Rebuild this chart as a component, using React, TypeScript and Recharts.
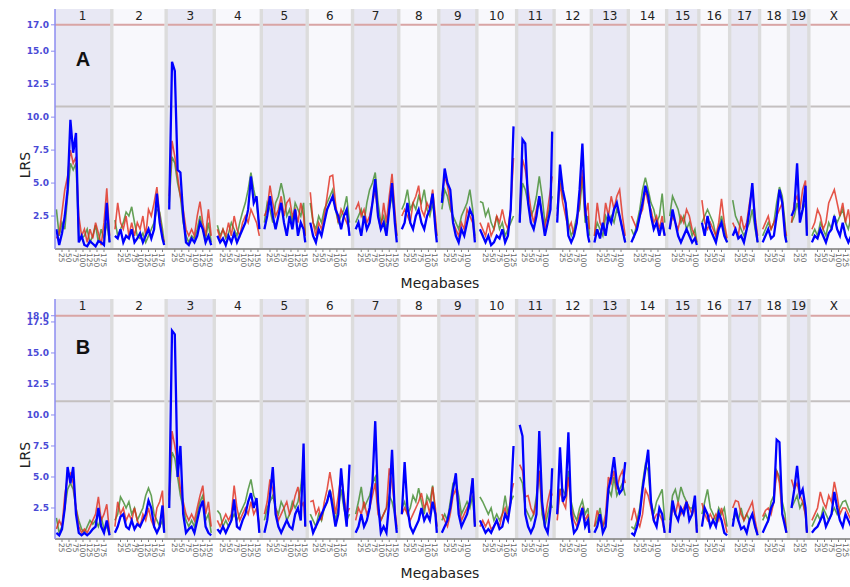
import React from 'react';
import { ComposedChart, Line, XAxis, YAxis, ReferenceArea, ReferenceLine } from 'recharts';

const CHROMS = ['1','2','3','4','5','6','7','8','9','10','11','12','13','14','15','16','17','18','19','X'];
const CHROM_MB = [197,182,160,156,152,150,153,131,124,130,122,121,120,125,103,98,95,91,61,166];
const GAP_MB = 12;
const X_TICK_MB = [25,50,75,100,125,150,175];

const A_Y_TICKS = [2.5,5,7.5,10,12.5,15,17];
const B_Y_TICKS = [2.5,5,7.5,10,12.5,15,17.5,18];
const A_Y_MAX = 18.2;
const B_Y_MAX = 19.35;
const A_SIGNIFICANT = 17.0;
const A_SUGGESTIVE = 10.8;
const B_SIGNIFICANT = 18.0;
const B_SUGGESTIVE = 11.1;

// LRS values per chromosome, sampled every 10 Mb (5, 15, 25 ... Mb)
const A_BLUE = [
  [1.5,0.3,1.2,2.5,4.5,9.8,7.3,8.8,0.5,1.0,0.3,0.2,0.6,0.4,0.2,0.6,0.5,0.3,3.5,0.5],
  [1.0,0.8,1.5,0.5,1.0,0.8,1.5,0.5,0.8,1.2,0.5,1.0,1.5,0.8,1.5,4.2,2.0,0.8,0.3],
  [3.0,14.2,13.5,6.0,5.8,2.5,0.5,0.3,0.8,0.5,1.0,2.0,1.5,0.5,1.0,0.3],
  [1.0,0.5,0.8,0.3,1.0,0.5,1.2,0.5,1.0,1.5,2.0,3.0,5.5,3.5,4.0,1.5],
  [1.5,2.5,4.0,2.5,1.5,2.5,3.5,2.0,1.0,2.5,1.5,3.0,1.0,2.0,1.5,0.5],
  [2.0,1.0,0.5,1.5,1.0,2.0,3.0,3.5,4.0,3.0,2.5,1.5,2.5,3.0,1.0],
  [1.5,2.0,1.0,2.5,1.5,2.0,3.5,5.3,2.5,1.5,2.0,1.0,3.0,5.0,2.0,0.5],
  [1.5,2.0,3.5,2.0,1.5,2.5,3.0,2.0,1.5,2.5,3.0,4.2,1.5,0.5],
  [3.5,6.1,5.0,4.5,2.0,1.0,0.5,1.5,1.0,2.0,3.0,2.5,0.5],
  [1.5,1.0,0.5,1.0,0.3,0.5,1.0,0.8,1.5,0.5,1.0,3.0,9.3],
  [2.0,8.3,8.0,3.5,2.0,1.5,2.5,4.0,2.5,1.0,2.0,3.0,8.9],
  [2.0,6.4,4.5,3.5,1.0,0.5,1.0,2.0,4.5,8.0,3.0,1.0,0.5],
  [0.5,1.5,0.8,2.0,1.0,2.5,2.0,3.0,3.5,2.5,1.5,0.5],
  [0.5,1.0,1.5,2.5,3.5,4.8,4.0,2.5,1.5,2.0,1.0,2.0,1.0],
  [1.5,3.0,2.0,1.0,0.5,1.0,1.5,1.0,0.5,0.8,0.3],
  [2.0,1.0,2.5,1.5,1.0,0.5,1.5,2.0,1.0,0.5],
  [1.0,1.5,0.8,1.0,0.5,1.5,3.0,5.0,2.0,0.5],
  [0.5,1.0,1.5,0.8,1.0,2.5,4.5,3.5,1.0,0.5],
  [2.5,3.0,6.5,2.0,3.0,4.8,1.0],
  [0.5,1.0,0.8,1.5,1.0,0.5,1.2,1.5,2.5,1.5,1.0,2.0,1.0,0.5,1.0,0.8,0.5],
];
const A_RED = [
  [0.8,1.2,2.8,4.5,5.5,7.5,6.5,7.0,2.5,1.0,1.5,0.5,1.5,0.8,2.0,1.2,0.3,2.0,4.6,1.0],
  [1.5,3.5,2.0,1.5,2.5,1.0,2.0,1.0,2.0,1.5,2.5,1.0,3.0,2.5,3.5,4.7,2.5,1.0,0.5],
  [4.0,8.2,7.0,5.5,4.0,3.0,1.5,1.0,1.5,1.0,2.5,3.6,2.0,1.0,3.0,1.0],
  [1.5,0.8,1.5,1.0,2.0,1.0,2.5,1.5,1.0,2.0,2.5,2.0,3.0,2.5,2.0,1.0],
  [2.5,3.0,4.8,3.5,2.5,3.0,4.0,2.5,3.5,3.8,2.5,3.0,2.0,3.5,2.5,1.0],
  [4.3,2.0,1.0,2.0,1.5,2.5,4.0,5.5,5.6,3.5,2.0,3.0,2.5,2.0,1.5],
  [3.0,3.5,2.5,3.0,2.0,2.5,3.5,4.5,2.5,1.5,3.5,2.0,4.0,5.7,3.0,1.0],
  [2.5,3.0,2.5,2.0,3.5,4.0,4.8,3.0,2.5,3.5,3.0,4.5,2.5,1.0],
  [4.0,5.5,4.8,3.5,2.0,1.5,1.0,2.0,1.5,3.0,2.5,2.0,0.8],
  [2.0,1.5,1.0,2.0,1.0,1.5,2.5,2.0,3.0,2.0,1.5,3.0,6.9],
  [2.5,6.8,6.0,4.5,3.0,2.0,3.0,4.0,2.5,1.5,3.0,4.5,5.5],
  [2.5,5.0,3.5,2.5,1.5,2.0,1.0,2.0,3.5,6.0,2.5,3.5,1.5],
  [1.0,3.5,2.0,1.5,3.5,2.5,4.0,3.0,4.0,4.5,2.5,1.0],
  [2.5,2.0,1.5,2.5,3.0,4.5,3.5,3.0,2.0,2.5,1.5,2.5,1.0],
  [1.5,2.5,2.0,1.5,2.5,2.0,3.0,2.5,1.5,1.0,0.5],
  [3.7,2.0,1.5,2.0,1.5,1.0,2.0,3.8,2.0,0.8],
  [2.0,1.5,1.0,2.5,1.5,2.0,3.5,4.5,2.5,1.0],
  [1.5,2.0,2.5,1.5,2.0,2.5,3.0,3.5,1.5,1.0],
  [2.0,3.5,4.0,3.0,4.5,5.2,1.5],
  [1.5,2.0,3.0,2.5,1.5,2.0,3.5,4.0,4.5,3.5,2.5,3.5,2.0,3.0,1.5,2.0,1.0],
];
const A_GREEN = [
  [3.0,1.0,2.0,1.5,4.0,6.5,6.0,6.5,1.0,0.8,1.0,1.5,0.5,1.0,1.8,0.5,1.5,0.8,2.0,0.5],
  [2.2,1.0,1.5,2.0,2.8,2.5,3.2,2.0,1.0,0.8,1.2,0.5,1.0,1.5,2.0,3.0,2.8,1.5,0.5],
  [3.5,7.0,6.5,5.0,4.0,2.0,1.0,0.5,1.0,0.8,1.5,2.5,1.5,0.8,2.0,0.5],
  [1.8,1.0,1.5,0.8,1.2,2.0,1.5,1.0,2.0,2.8,3.5,4.5,5.8,4.5,3.5,1.5],
  [2.0,3.5,3.0,2.0,3.5,4.0,5.0,4.0,2.5,3.0,2.0,3.5,3.0,2.5,3.5,1.0],
  [3.5,2.0,1.5,2.5,2.0,3.0,3.5,4.0,4.5,3.0,2.0,2.5,3.0,4.0,2.0],
  [2.0,2.5,3.0,2.0,3.5,4.5,5.0,5.8,3.5,2.0,2.5,1.5,3.0,4.0,2.5,1.0],
  [3.0,3.5,4.5,3.0,3.5,3.0,4.0,3.5,4.5,3.0,2.5,3.5,2.0,1.0],
  [3.0,4.5,4.0,3.0,2.5,2.0,1.5,2.5,3.0,3.5,4.5,3.0,1.0],
  [3.6,3.5,2.5,3.0,2.0,1.5,2.5,1.5,2.0,1.0,1.5,2.0,2.5],
  [2.0,5.0,4.5,3.5,2.5,3.0,4.0,5.5,4.0,2.0,2.5,3.5,4.0],
  [3.0,5.5,4.0,3.5,2.0,1.0,1.5,2.5,3.0,5.5,2.0,2.5,1.0],
  [1.0,2.0,1.5,1.0,2.5,2.0,2.5,2.0,3.0,2.5,1.5,0.5],
  [1.5,1.0,2.0,3.0,4.5,5.4,4.5,3.5,3.0,2.0,2.5,4.2,2.0],
  [2.5,4.0,3.5,3.0,2.0,2.5,1.5,2.0,1.0,1.5,0.5],
  [2.0,2.5,3.0,2.5,2.0,1.0,1.5,2.5,1.5,0.5],
  [3.7,2.5,2.0,1.5,1.0,1.5,2.0,3.0,1.5,0.5],
  [1.0,1.5,2.0,1.5,2.0,3.5,4.7,4.0,2.0,0.5],
  [2.0,2.5,3.5,2.5,3.0,3.5,1.0],
  [1.0,1.5,1.0,2.0,1.5,1.0,2.0,1.5,2.5,2.0,2.5,3.0,2.0,1.5,2.5,1.0,0.5],
];

const B_BLUE = [
  [0.5,0.3,0.8,2.5,5.8,4.5,5.8,2.0,0.5,0.3,0.5,0.3,0.5,0.8,1.0,2.5,1.0,0.5,1.5,0.3],
  [0.5,1.0,1.8,2.0,1.0,0.8,1.5,0.8,1.2,1.0,1.5,2.0,3.1,2.5,1.0,0.5,1.0,2.7,0.5],
  [2.5,16.8,16.5,5.0,7.5,2.0,0.5,0.8,1.0,0.5,1.5,2.5,3.1,1.0,0.5,0.3],
  [0.8,0.5,1.0,0.5,1.0,1.5,3.2,1.0,0.8,1.5,2.0,3.0,3.7,2.5,3.3,0.5],
  [0.5,1.5,3.5,5.8,2.0,1.0,0.5,1.0,1.5,1.0,0.8,2.0,2.5,1.5,7.7,1.0],
  [1.5,0.5,1.0,1.5,2.0,2.5,3.0,3.9,2.5,1.0,2.0,5.7,3.0,1.0,6.0],
  [0.5,1.0,2.0,1.0,1.5,2.5,4.5,9.5,3.0,0.5,1.0,0.5,3.0,7.2,2.0,0.5],
  [2.0,6.2,2.5,1.0,0.5,1.0,1.5,2.5,1.5,2.0,1.5,3.0,2.0,0.5],
  [0.5,1.0,1.5,2.5,4.0,5.3,2.0,1.0,1.5,2.0,3.0,4.9,1.0],
  [1.5,1.0,0.5,0.8,0.5,1.0,1.5,0.8,1.0,2.0,1.5,3.0,7.5],
  [9.2,8.3,2.0,1.0,0.5,1.0,2.0,8.7,3.0,1.0,0.5,2.5,5.7],
  [2.0,7.4,3.0,3.5,8.6,2.0,0.5,0.8,1.5,2.5,1.0,1.5,0.5],
  [0.5,1.0,2.0,0.5,1.0,4.0,5.0,6.6,4.5,3.7,4.0,6.2],
  [0.5,0.3,1.0,2.0,4.0,5.6,7.2,3.0,1.5,1.0,2.5,2.0,0.5],
  [0.5,3.1,2.0,1.5,2.5,2.0,3.0,1.5,2.0,3.5,0.5],
  [1.0,2.5,2.0,1.0,1.5,1.0,2.1,1.5,0.5,0.3],
  [1.0,2.5,1.5,0.8,1.0,0.5,1.5,2.0,1.0,0.3],
  [0.5,1.0,1.5,2.5,3.0,8.0,7.8,2.0,1.0,0.5],
  [2.5,4.0,5.9,3.5,4.0,2.5,0.5],
  [0.5,0.8,1.0,1.5,2.0,1.0,1.5,2.0,3.8,2.5,1.5,1.0,2.0,1.5,1.0,0.5,0.5],
];
const B_RED = [
  [0.8,1.5,1.0,3.5,5.0,5.3,4.5,2.5,1.0,0.5,0.8,0.5,1.0,1.5,2.0,3.4,1.5,2.0,2.8,0.5],
  [1.0,3.0,2.0,2.5,1.5,2.0,1.5,2.5,1.5,1.0,2.0,1.5,2.5,1.5,1.0,2.5,3.0,3.9,1.0],
  [3.5,8.7,7.5,6.0,4.0,3.0,2.0,1.5,2.0,1.5,2.5,3.5,4.3,2.0,3.0,1.0],
  [1.5,1.0,1.5,2.0,1.5,2.0,4.3,2.5,1.5,2.0,2.5,2.0,3.0,2.0,2.5,1.0],
  [2.0,3.0,4.8,4.0,2.5,1.5,2.0,2.5,3.0,2.0,2.5,3.5,4.2,2.5,3.0,1.0],
  [3.0,3.1,2.0,2.5,1.5,3.0,4.0,5.4,4.0,2.0,3.5,5.2,3.5,2.0,2.5],
  [1.5,2.5,2.0,3.0,2.0,2.5,3.5,4.5,2.0,1.5,2.0,2.5,5.7,4.5,2.5,1.0],
  [2.0,2.5,2.0,1.5,2.0,2.5,3.0,3.7,2.5,3.0,2.0,4.2,2.5,1.0],
  [2.0,1.5,1.0,2.0,3.5,4.0,2.5,1.5,2.0,2.5,3.0,4.9,1.0],
  [1.0,1.5,1.0,1.5,0.8,1.0,1.5,1.0,2.0,2.5,1.5,3.5,4.5],
  [6.0,5.5,3.4,3.5,2.5,2.0,3.0,5.5,2.5,1.5,3.0,4.0,3.5],
  [1.5,4.0,3.0,2.5,5.0,2.5,1.5,1.0,2.0,2.5,1.5,2.0,0.5],
  [1.0,2.3,1.5,1.0,2.0,5.0,4.5,5.5,4.0,5.0,5.5,4.5],
  [1.5,2.5,1.5,1.0,2.0,4.0,3.5,2.5,1.5,2.0,2.0,1.5,0.5],
  [1.0,2.5,2.0,3.0,2.0,2.5,3.0,2.5,2.0,2.5,0.5],
  [2.9,2.0,1.5,2.0,1.5,2.0,1.5,2.5,1.5,0.5],
  [2.5,3.1,3.0,2.0,1.5,2.0,2.5,3.0,1.5,0.5],
  [1.8,2.3,2.5,2.0,3.0,5.5,4.5,2.0,1.5,0.5],
  [4.8,4.0,4.5,3.5,3.0,1.9,0.5],
  [1.5,2.0,2.5,3.8,3.0,2.5,3.5,3.0,4.6,3.5,2.0,2.5,2.5,2.0,1.5,1.0,0.5],
];
const B_GREEN = [
  [1.7,0.5,1.0,2.5,4.0,4.5,4.0,2.5,1.5,0.8,0.5,1.0,1.5,1.2,1.5,1.0,1.8,0.8,1.0,0.3],
  [1.5,2.0,3.4,3.0,2.5,3.0,2.0,2.5,1.5,2.0,2.5,3.5,4.1,3.5,2.0,1.5,1.0,1.5,0.5],
  [3.0,7.0,6.5,5.0,3.5,2.5,1.5,1.0,1.5,1.0,2.0,3.0,3.5,1.5,2.0,0.5],
  [2.3,2.0,1.0,1.5,1.0,1.5,2.0,1.5,2.0,2.5,3.0,4.0,4.8,3.5,3.0,1.0],
  [1.5,2.5,3.0,3.5,2.5,2.0,3.0,2.5,1.5,2.0,3.0,2.5,3.0,4.2,6.2,1.0],
  [2.0,1.5,1.0,2.0,1.5,2.5,3.0,4.0,3.0,1.5,2.5,4.0,2.5,1.5,2.0],
  [2.0,3.0,4.2,2.5,3.0,3.5,4.5,5.0,2.5,1.5,2.0,2.5,3.5,3.0,2.0,0.8],
  [2.5,3.0,2.0,2.5,3.5,3.0,4.1,3.0,2.0,3.5,3.0,4.3,2.0,1.0],
  [1.5,2.0,1.5,3.0,4.5,4.5,3.5,2.0,2.5,3.0,2.5,3.5,1.0],
  [3.4,3.0,2.5,2.0,2.5,1.5,2.0,1.5,2.0,3.5,2.0,3.0,3.5],
  [5.0,4.5,2.5,2.0,1.5,2.0,3.5,5.5,2.0,1.0,2.0,3.0,2.5],
  [2.0,4.0,4.0,3.5,5.5,3.0,2.0,1.5,2.5,3.1,2.0,2.5,1.0],
  [1.0,1.5,2.5,1.0,1.5,4.0,3.5,5.0,3.5,4.0,4.5,3.5],
  [1.0,0.8,1.5,2.5,4.5,6.0,5.5,3.0,2.0,3.0,3.5,4.0,1.5],
  [1.5,3.5,4.0,3.0,4.2,3.5,3.0,2.5,2.5,3.0,1.0],
  [2.0,3.0,4.0,2.5,2.0,1.5,2.5,2.0,2.5,1.0],
  [1.5,2.0,1.5,2.5,1.5,2.0,1.5,2.0,1.0,0.3],
  [1.5,2.0,1.5,3.0,3.5,5.5,5.0,3.0,2.0,0.5],
  [2.5,3.0,3.5,2.5,3.0,2.0,0.5],
  [1.0,1.5,2.0,1.5,2.5,2.0,1.5,2.0,2.5,2.0,2.5,3.0,3.1,2.5,2.0,1.0,0.5],
];

const STARTS: number[] = [];
{
  let acc = 0;
  CHROM_MB.forEach((len) => { STARTS.push(acc); acc += len + GAP_MB; });
}
const TOTAL = STARTS[STARTS.length - 1] + CHROM_MB[CHROM_MB.length - 1];

const X_TICKS: number[] = [];
const X_TICK_LABEL = new Map<number, string>();
CHROM_MB.forEach((len, i) => {
  X_TICK_MB.forEach((mb) => {
    if (mb < len) {
      const pos = STARTS[i] + mb;
      X_TICKS.push(pos);
      X_TICK_LABEL.set(pos, String(mb));
    }
  });
});

function buildRows(blue: number[][], red: number[][], green: number[][]) {
  const rows: any[] = [];
  CHROM_MB.forEach((len, i) => {
    blue[i].forEach((b, k) => {
      const pos = Math.min(10 * k + 5, len - 1);
      rows.push({ x: STARTS[i] + pos, blue: b, red: red[i][k], green: green[i][k] });
    });
    rows.push({ x: STARTS[i] + len + GAP_MB / 2, blue: null, red: null, green: null });
  });
  return rows;
}

const XTick = (props: any) => {
  const { x, y, payload } = props;
  const label = X_TICK_LABEL.get(payload.value) || '';
  return (
    <g transform={`translate(${x},${y - 8})`}>
      <line x1={0} y1={0} x2={0} y2={3} stroke="#888" strokeWidth={1} />
      <text x={4} y={3} transform="rotate(90)" fontSize={7.5} fill="#666" fontFamily="DejaVu Sans">{label}</text>
    </g>
  );
};

const MegabasesLabel = () => (
  <text x={440} y={283} textAnchor="middle" dominantBaseline="central" fontSize={14} fill="#222" fontFamily="DejaVu Sans">Megabases</text>
);

const SideLabels = () => (
  <text x={25} y={165} transform="rotate(-90 25 165)" textAnchor="middle" dominantBaseline="central" fontSize={14} fill="#222" fontFamily="DejaVu Sans">LRS</text>
);

type PanelProps = {
  letter: string; blue: number[][]; red: number[][]; green: number[][];
  yMax: number; yTicks: number[]; sig: number; sug: number; letterY: number;
};

function Panel({ letter, blue, red, green, yMax, yTicks, sig, sug, letterY }: PanelProps) {
  const data = buildRows(blue, red, green);
  return (
    <ComposedChart width={858} height={290} data={data} margin={{ top: 9, right: 1, bottom: 0, left: 0 }}>
      <ReferenceArea x1={0} x2={TOTAL} y1={0} y2={yMax} fill="#dcdcdc" fillOpacity={1} stroke="none" />
      {CHROMS.map((c, i) => (
        <ReferenceArea key={'bg' + c} x1={STARTS[i]} x2={STARTS[i] + CHROM_MB[i]} y1={0} y2={yMax}
          fill={i % 2 === 0 ? '#e8e8f4' : '#f8f8fc'} fillOpacity={1} stroke="none"
          label={{ value: c, position: 'insideTop', offset: 2, fill: '#222', fontSize: 12, fontFamily: 'DejaVu Sans' }} />
      ))}
      {CHROMS.map((c, i) => (
        <ReferenceLine key={'sig' + c} segment={[{ x: STARTS[i], y: sig }, { x: STARTS[i] + CHROM_MB[i], y: sig }]}
          stroke="#d9a5a5" strokeWidth={2} />
      ))}
      {CHROMS.map((c, i) => (
        <ReferenceLine key={'sug' + c} segment={[{ x: STARTS[i], y: sug }, { x: STARTS[i] + CHROM_MB[i], y: sug }]}
          stroke="#c4c0c0" strokeWidth={2} />
      ))}
      <XAxis dataKey="x" type="number" domain={[0, TOTAL]} ticks={X_TICKS} interval={0}
        tick={<XTick />} tickLine={false} axisLine={{ stroke: '#999', strokeWidth: 2 }} height={41}
        label={<MegabasesLabel />} allowDataOverflow />
      <YAxis type="number" domain={[0, yMax]} ticks={yTicks} interval={0} width={55}
        axisLine={{ stroke: '#8c8cf0', strokeWidth: 1.5 }} tickLine={{ stroke: '#8c8cf0' }} tickSize={4}
        tick={{ fill: '#4a4ad6', fontSize: 9, fontWeight: 'bold', fontFamily: 'DejaVu Sans' }}
        tickFormatter={(v: number) => v.toFixed(1)} label={<SideLabels />} allowDataOverflow />
      <Line dataKey="green" stroke="#3e8a2c" strokeOpacity={0.8} strokeWidth={1.6} dot={false} isAnimationActive={false} connectNulls={false} />
      <Line dataKey="red" stroke="#e02a1a" strokeOpacity={0.8} strokeWidth={1.6} dot={false} isAnimationActive={false} connectNulls={false} />
      <Line dataKey="blue" stroke="#0000ff" strokeWidth={2.3} dot={false} isAnimationActive={false} connectNulls={false} />
      <ReferenceArea x1={STARTS[0]} x2={STARTS[0]} y1={letterY} y2={letterY} stroke="none" fillOpacity={0} ifOverflow="visible"
        label={{ value: letter, position: 'center', dx: 28, fill: '#111', fontSize: 20, fontWeight: 'bold', fontFamily: 'Liberation Sans' }} />
    </ComposedChart>
  );
}

export default function App() {
  return (
    <div style={{ position: 'absolute', left: 0, top: 0, width: 850, height: 587, overflow: 'hidden', background: '#fff' }}>
      <div style={{ position: 'absolute', left: 0, top: 0 }}>
        <Panel letter="A" blue={A_BLUE} red={A_RED} green={A_GREEN} yMax={A_Y_MAX} yTicks={A_Y_TICKS}
          sig={A_SIGNIFICANT} sug={A_SUGGESTIVE} letterY={14.4} />
      </div>
      <div style={{ position: 'absolute', left: 0, top: 290 }}>
        <Panel letter="B" blue={B_BLUE} red={B_RED} green={B_GREEN} yMax={B_Y_MAX} yTicks={B_Y_TICKS}
          sig={B_SIGNIFICANT} sug={B_SUGGESTIVE} letterY={15.5} />
      </div>
    </div>
  );
}
